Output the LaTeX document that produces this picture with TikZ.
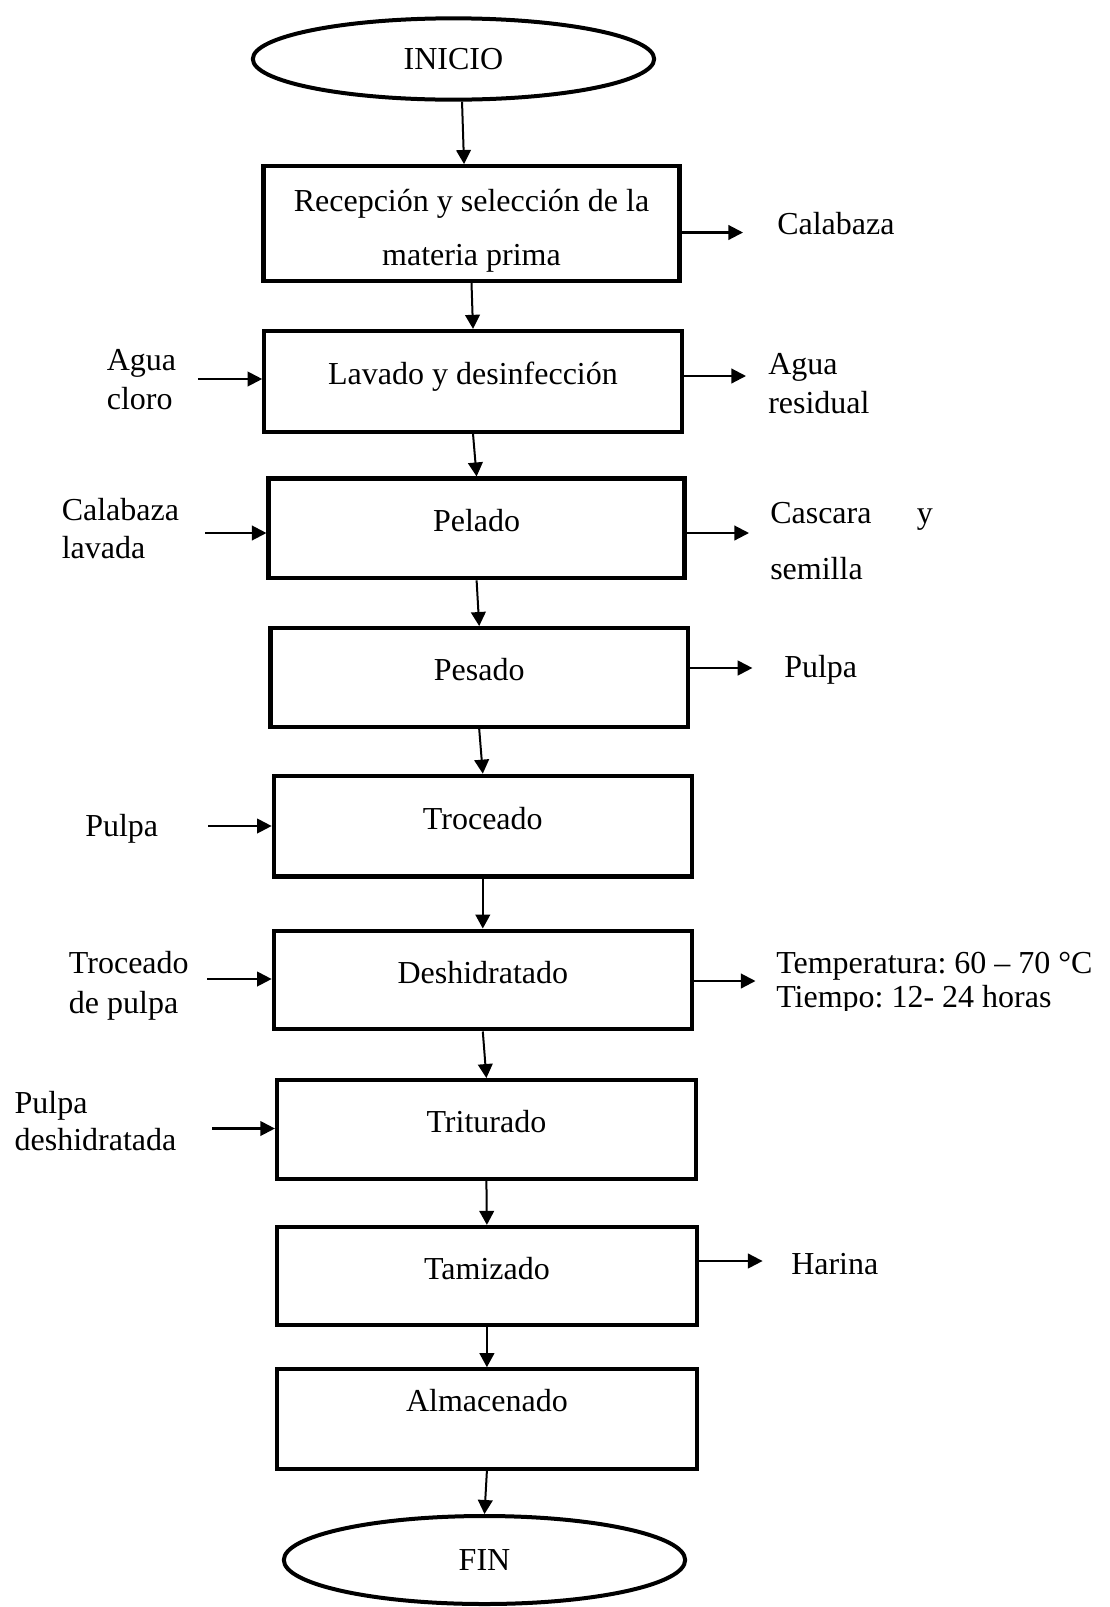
\documentclass[tikz,border=0pt]{standalone}
\usepackage{fontspec}
\setmainfont{Liberation Serif}
\usetikzlibrary{arrows.meta,shapes.geometric}
\frenchspacing
\begin{document}
\begin{tikzpicture}[x=0.75pt,y=-0.75pt,
  font=\fontsize{24}{29}\selectfont,
  proc/.style={draw, line width=3.2pt, rectangle, inner sep=0pt, text height=4.5pt, text depth=0pt},
  term/.style={draw, line width=3pt, ellipse, inner sep=0pt},
  flow/.style={line width=1.5pt, -{Triangle[length=10.5pt,width=11pt]}},
  side/.style={line width=1.6pt, -{Triangle[length=11pt,width=11pt]}},
  lbl/.style={anchor=west, inner sep=0pt, align=left},
  ls/.style={font=\fontsize{24}{#1}\selectfont}]
\useasboundingbox (0,0) rectangle (1110,1607);

% terminals
\node[term, minimum width=301pt, minimum height=61pt] (ini) at (453.5,59) {INICIO};
\node[term, minimum width=301pt, minimum height=66pt] (fin) at (484.5,1560) {FIN};

% process boxes
\node[draw, line width=3.2pt, rectangle, inner sep=0pt, align=center, ls=40.5pt,
      minimum width=312pt, minimum height=86pt] (b1) at (471.5,223.5)
      {\rule{0pt}{27pt}Recepción y selección de la\\materia prima};
\node[proc, minimum width=313pt, minimum height=75.5pt] (b2) at (473,381.3) {Lavado y desinfección};
\node[proc, minimum width=312pt, minimum height=74.7pt] (b3) at (476.6,528.4) {Pelado};
\node[proc, minimum width=313pt, minimum height=74pt] (b4) at (479.2,677.5) {Pesado};
\node[proc, minimum width=313.5pt, minimum height=75.5pt] (b5) at (482.8,826.1) {Troceado};
\node[proc, minimum width=313.5pt, minimum height=74pt] (b6) at (482.8,980) {Deshidratado};
\node[proc, minimum width=314pt, minimum height=74pt] (b7) at (486.4,1129.5) {Triturado};
\node[proc, minimum width=315pt, minimum height=73.5pt] (b8) at (486.9,1276) {Tamizado};
\node[proc, minimum width=315pt, minimum height=74.5pt, text height=0pt, text depth=12pt] (b9) at (486.9,1419) {Almacenado};

% main flow
\draw[flow] ([xshift=6.4pt]ini.south) -- ([xshift=-5.6pt]b1.north);
\draw[flow] (b1.south) -- (b2.north);
\draw[flow] (b2.south) -- (b3.north);
\draw[flow] (b3.south) -- (b4.north);
\draw[flow] (b4.south) -- (b5.north);
\draw[flow] (b5.south) -- (b6.north);
\draw[flow] (b6.south) -- (b7.north);
\draw[flow] (b7.south) -- (b8.north);
\draw[flow] (b8.south) -- (b9.north);
\draw[flow] (b9.south) -- (fin.north);

% outputs (right)
\coordinate (o1) at (743,232.5);
\coordinate (o2) at (746,376);
\coordinate (o3) at (749,533);
\coordinate (o4) at (752.4,668);
\coordinate (o6) at (755.5,981);
\coordinate (o8) at (762.6,1261);
\draw[side] (b1.east |- o1) -- (o1);
\draw[side] (b2.east |- o2) -- (o2);
\draw[side] (b3.east |- o3) -- (o3);
\draw[side] (b4.east |- o4) -- (o4);
\draw[side] (b6.east |- o6) -- (o6);
\draw[side] (b8.east |- o8) -- (o8);

\node[lbl] (r1) at (777,223.5) {Calabaza};
\node[lbl] (r2) at (768,383.5) {Agua\\residual};
\node[lbl, ls=41.5pt] (r3) at (770,541) {Cascara\hspace{34pt}y\\semilla};
\node[lbl] (r4) at (784,670) {Pulpa};
\begin{scope}
\clip (760,900) rectangle (1110,1010);
\node[lbl, ls=25.5pt] (r6) at (776,983.5) {Temperatura: 60 – 70 °C\\Tiempo: 12- 24 horas};
\end{scope}
\node[lbl] (r8) at (791,1264) {Harina};

% inputs (left)
\coordinate (i2) at (197.8,379);
\coordinate (i3) at (205,533);
\coordinate (i5) at (208,826);
\coordinate (i6) at (207,979);
\coordinate (i7) at (212,1128.5);
\draw[side] (i2) -- (i2 -| b2.west);
\draw[side] (i3) -- (i3 -| b3.west);
\draw[side] (i5) -- (i5 -| b5.west);
\draw[side] (i6) -- (i6 -| b6.west);
\draw[side] (i7) -- (i7 -| b7.west);

\node[lbl] (l2) at (106.6,379.5) {Agua\\cloro};
\node[lbl, ls=28.5pt] (l3) at (61.5,528.5) {Calabaza\\lavada};
\node[lbl] (l5) at (85,829) {Pulpa};
\node[lbl, ls=30pt] (l6) at (68.7,985.5) {Troceado\\de pulpa};
\node[lbl, ls=28pt] (l7) at (14.4,1121) {Pulpa\\deshidratada};
\end{tikzpicture}
\end{document}
